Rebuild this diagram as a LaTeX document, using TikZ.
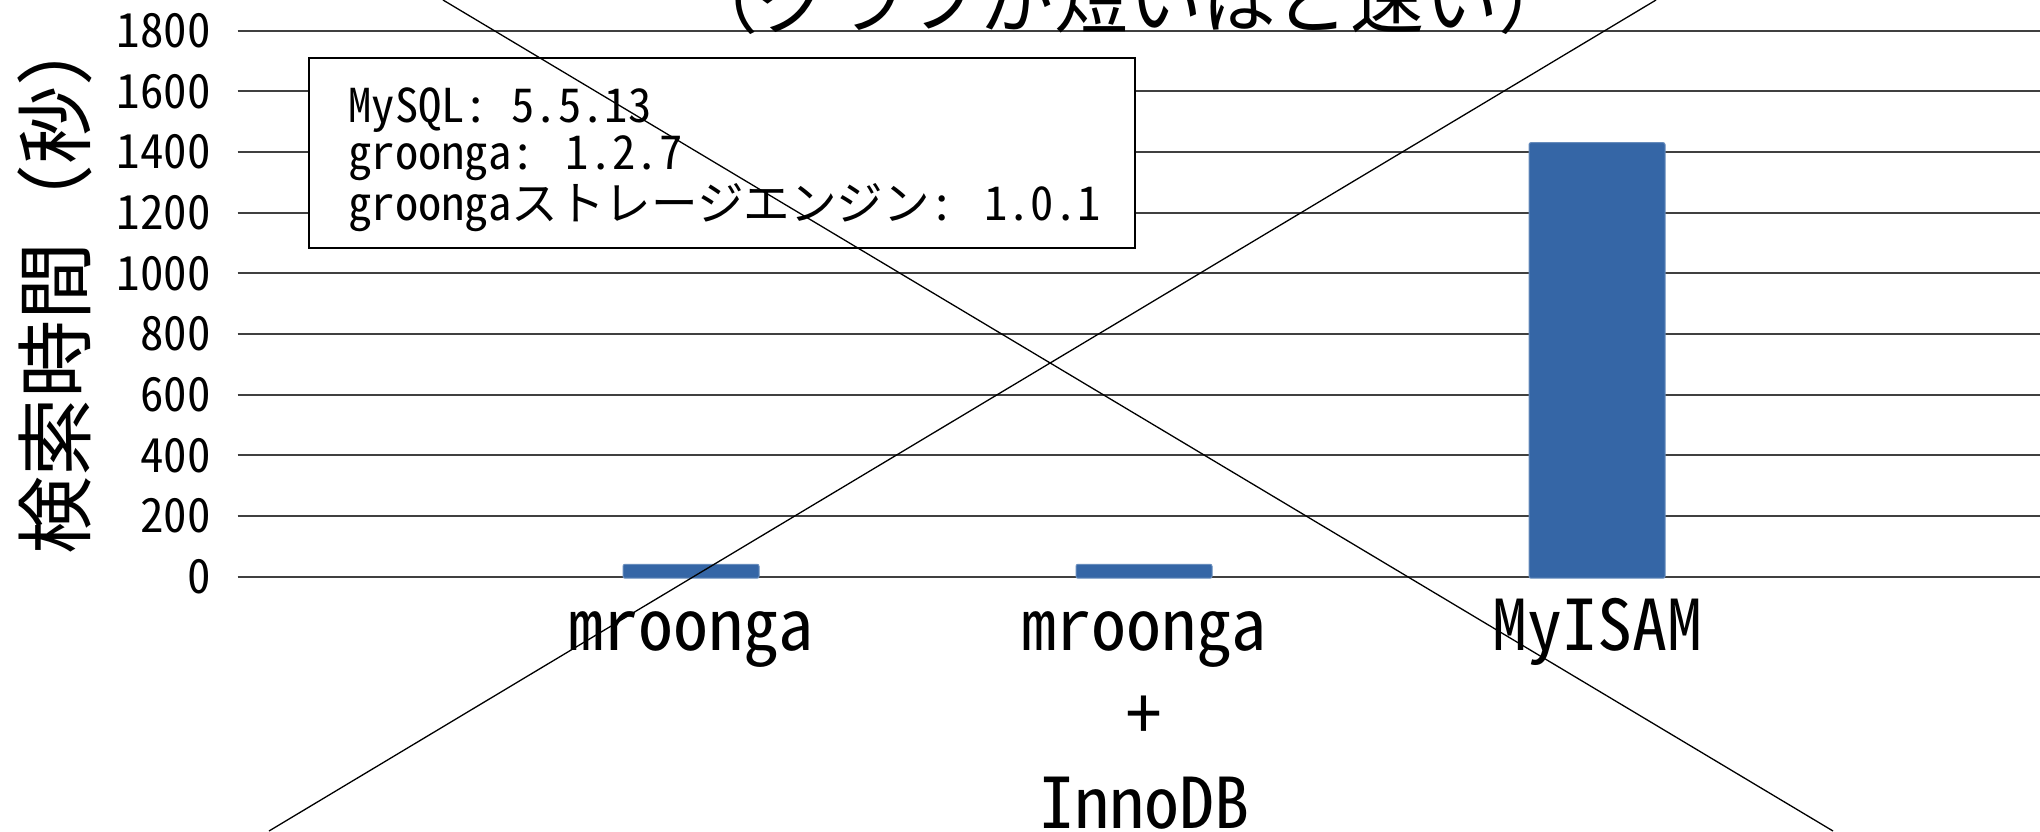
\documentclass[tikz,border=0pt]{standalone}
\usepackage{fontspec}
\setmainfont{Noto Sans CJK JP}
\newfontfamily\halfwidth{Noto Sans CJK JP}[RawFeature=+hwid]
\usetikzlibrary{positioning}

\definecolor{barblue}{RGB}{53,102,166}
\tikzset{
  grid line/.style={draw=black!75, line width=1pt},
  tick label/.style={anchor=east, inner sep=0pt, font=\halfwidth\fontsize{23.5}{24}\selectfont},
  bar/.style={fill=barblue, draw=barblue!75!white, line width=0.5pt, rounded corners=1pt},
  cat label/.style={anchor=base, inner sep=0pt, align=center, font=\halfwidth\fontsize{35}{44.5}\selectfont},
  legend box/.style={draw=black, line width=0.75pt, fill=white, inner sep=0pt,
    minimum width=413pt, minimum height=95pt},
  legend text/.style={anchor=base west, inner sep=0pt, align=left, font=\fontsize{23.3}{23.75}\selectfont},
  cross line/.style={draw=black, line width=0.65pt},
}

\begin{document}
\begin{tikzpicture}[x=0.5pt, y=-0.5pt]
  \useasboundingbox[fill=white] (0,0) rectangle (2040,831);

  % value axis: gridlines and ticks
  \begin{scope}[shift={(0,576.7)}, y=0.151667pt]
    \foreach \v in {0,200,...,1800} {
      \draw[grid line] (237.5,\v) -- (2040,\v);
      \node[tick label] (tick\v) at (211,\v) {\v};
    }
  \end{scope}

  % legend
  \node[legend box, anchor=north west] (legend) at (308,57) {};
  \node[legend text] (legendtext) at (348,220)
    {{\halfwidth MySQL: 5.5.13}\\
     {\halfwidth groonga: 1.2.7}\\
     {\halfwidth groonga}ストレージエンジン{\halfwidth : 1.0.1}};

  % bars
  \begin{scope}[shift={(0,576.7)}, y=0.151667pt]
    \foreach \cx/\val in {691/41, 1144/41, 1597/1431}
      \draw[bar] (\cx-68,-5) rectangle (\cx+68,\val);
  \end{scope}

  % categories
  \node[cat label] (mroonga) at (691,650) {mroonga};
  \node[cat label] (innodb) at (1144,828) {mroonga\\+\\InnoDB};
  \node[cat label] (myisam) at (1597,650) {MyISAM};

  % titles
  \node[anchor=base, inner sep=0pt, font=\fontsize{37}{40}\selectfont] (title) at (1128,27)
    {（グラフが短いほど速い）};
  \node[rotate=90, inner sep=0pt, font=\fontsize{39}{40}\selectfont] (ytitle) at (55,281)
    {検索時間（秒）};

  % cross
  \coordinate (xa1) at (443,0);
  \coordinate (xa2) at (1833,831);
  \coordinate (xb1) at (269,831);
  \coordinate (xb2) at (1656,0);
  \draw[cross line] (xa1) -- (xa2);
  \draw[cross line] (xb1) -- (xb2);
\end{tikzpicture}
\end{document}
